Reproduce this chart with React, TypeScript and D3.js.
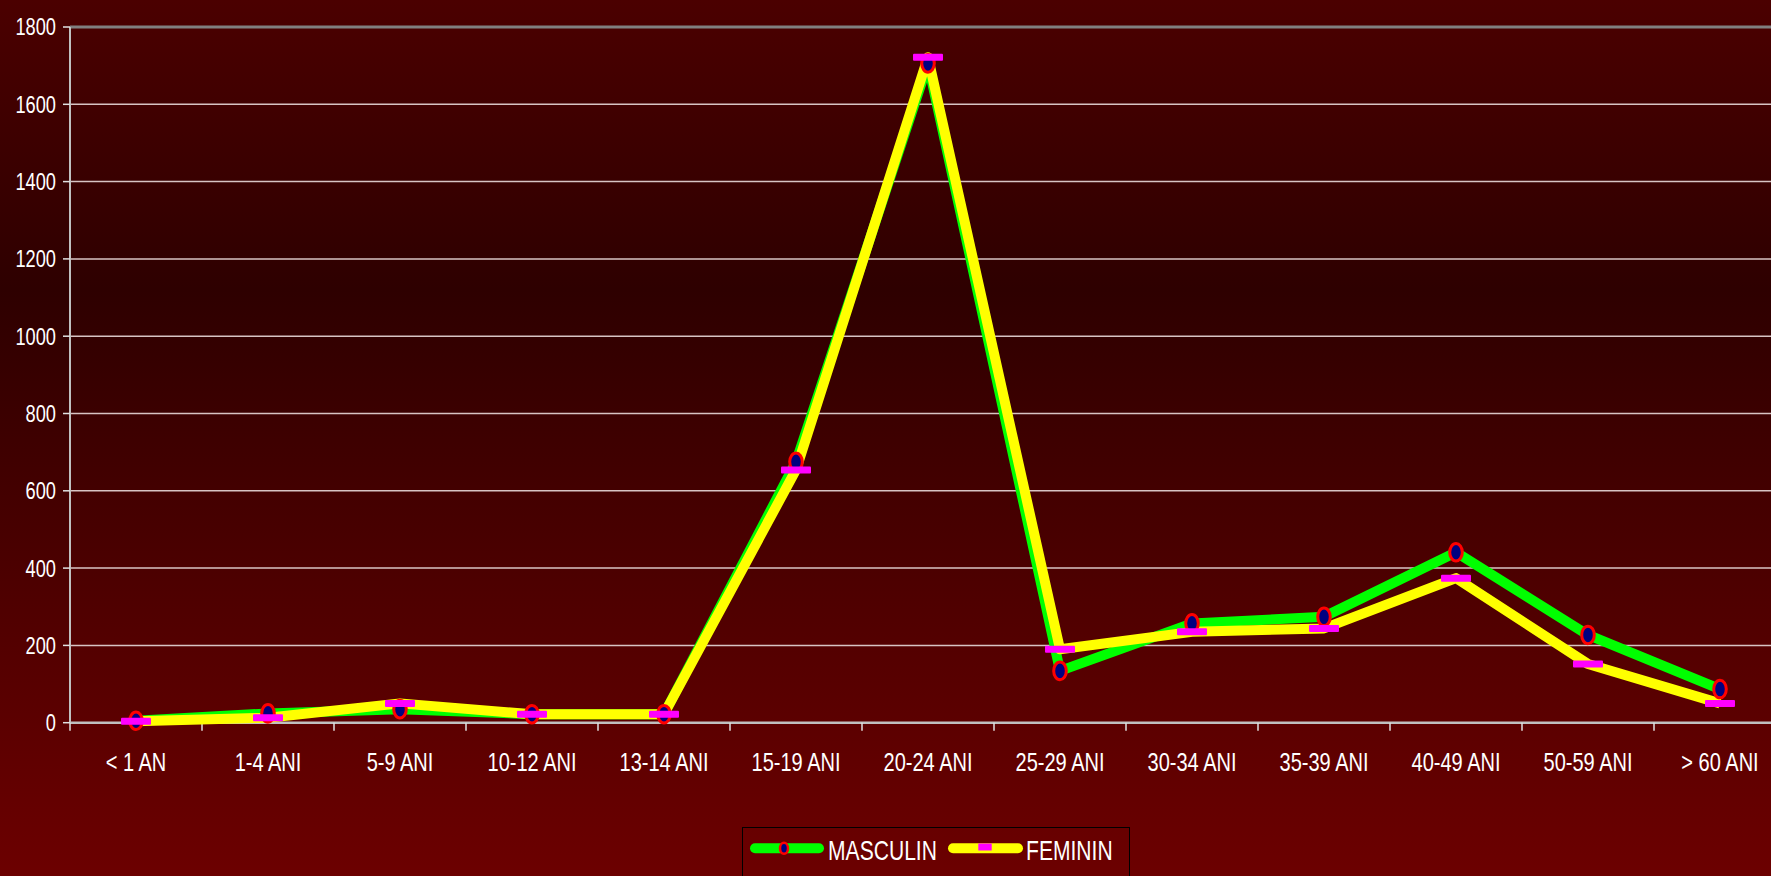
import * as d3 from "d3";

const categories = [
  "< 1 AN", "1-4 ANI", "5-9 ANI", "10-12 ANI", "13-14 ANI", "15-19 ANI", "20-24 ANI",
  "25-29 ANI", "30-34 ANI", "35-39 ANI", "40-49 ANI", "50-59 ANI", "> 60 ANI",
];
const masculin = [5, 24, 35, 22, 22, 675, 1706, 134, 257, 274, 441, 227, 87];
const feminin = [4, 13, 50, 22, 22, 654, 1722, 190, 235, 244, 374, 152, 50];
const yTicks = [0, 200, 400, 600, 800, 1000, 1200, 1400, 1600, 1800];

const W = 1771;
const H = 876;
const plot = { left: 70, top: 27, bottom: 722.7, band: 132 };
const FONT = "'Liberation Sans', Arial, sans-serif";

// no narrow font installed, so squeeze the regular one horizontally
function NarrowText(props: {
  x: number;
  y: number;
  size: number;
  sx: number;
  anchor?: "start" | "middle" | "end";
  dy?: string;
  children: string | number;
}) {
  return (
    <text
      transform={`translate(${props.x},${props.y}) scale(${props.sx},1)`}
      dy={props.dy}
      textAnchor={props.anchor || "start"}
      fill="#ffffff"
      fontFamily={FONT}
      fontSize={props.size}
    >
      {props.children}
    </text>
  );
}

export default function App() {
  const x = d3
    .scaleBand<string>()
    .domain(categories)
    .range([plot.left, plot.left + plot.band * categories.length])
    .padding(0);
  const y = d3.scaleLinear().domain([0, 1800]).range([plot.bottom, plot.top]);
  const cx = (i: number) => (x(categories[i]) || 0) + x.bandwidth() / 2;

  const line = d3
    .line<number>()
    .x((_, i) => cx(i))
    .y((d) => y(d));

  const right = plot.left + plot.band * categories.length;

  return (
    <div style={{ position: "absolute", left: 0, top: 0 }}>
      <svg width={W} height={H} style={{ display: "block" }}>
        <defs>
          <linearGradient id="bg" x1="0" y1="0" x2="0" y2="1">
            <stop offset="0" stopColor="#4b0000" />
            <stop offset="0.33" stopColor="#2e0000" />
            <stop offset="1" stopColor="#6c0000" />
          </linearGradient>
        </defs>
        <rect x={0} y={0} width={W} height={H} fill="url(#bg)" />

        {/* grid */}
        {yTicks.slice(1, -1).map((t) => (
          <line key={t} x1={plot.left} x2={right} y1={y(t)} y2={y(t)} stroke="#d8c4c4" strokeWidth={1.5} />
        ))}
        <line x1={plot.left} x2={right} y1={plot.top} y2={plot.top} stroke="#808080" strokeWidth={3} />

        {/* axes */}
        <line x1={plot.left} x2={plot.left} y1={plot.top} y2={plot.bottom} stroke="#c0c0c0" strokeWidth={2} />
        <line x1={plot.left} x2={right} y1={plot.bottom} y2={plot.bottom} stroke="#c0c0c0" strokeWidth={2.5} />
        {yTicks.map((t) => (
          <g key={t}>
            <line x1={plot.left - 7} x2={plot.left} y1={y(t)} y2={y(t)} stroke="#e0e0e0" strokeWidth={1.5} />
            <NarrowText x={56} y={y(t)} dy="0.35em" anchor="end" size={24} sx={0.76}>
              {t}
            </NarrowText>
          </g>
        ))}
        {categories.map((c, i) => (
          <g key={c}>
            <line
              x1={x(c)}
              x2={x(c)}
              y1={plot.bottom}
              y2={plot.bottom + 8}
              stroke="#e0e0e0"
              strokeWidth={1.5}
            />
            <NarrowText x={cx(i)} y={771} anchor="middle" size={26} sx={0.77}>
              {c}
            </NarrowText>
          </g>
        ))}

        {/* series */}
        <path d={line(masculin) || ""} fill="none" stroke="#00ff00" strokeWidth={10} strokeLinejoin="round" />
        <path d={line(feminin) || ""} fill="none" stroke="#ffff00" strokeWidth={10} strokeLinejoin="round" />
        {masculin.map((v, i) => (
          <ellipse key={i} cx={cx(i)} cy={y(v)} rx={6.3} ry={8.8} fill="#000080" stroke="#ff0000" strokeWidth={3} />
        ))}
        {feminin.map((v, i) => (
          <rect key={i} x={cx(i) - 15} y={y(v) - 3.5} width={30} height={7} rx={1} fill="#ff00ff" />
        ))}

        {/* legend */}
        <rect x={742.5} y={827.5} width={387} height={70} fill="none" stroke="#000000" strokeWidth={1} />
        <line x1={755} x2={819} y1={848.3} y2={848.3} stroke="#00ff00" strokeWidth={10} strokeLinecap="round" />
        <ellipse cx={784} cy={848.3} rx={4} ry={5.5} fill="#000080" stroke="#ff0000" strokeWidth={2.5} />
        <NarrowText x={828} y={860} size={28.5} sx={0.74}>
          MASCULIN
        </NarrowText>
        <line x1={953} x2={1018} y1={848.3} y2={848.3} stroke="#ffff00" strokeWidth={10} strokeLinecap="round" />
        <rect x={978.3} y={843.5} width={13.4} height={7} fill="#ff00ff" />
        <NarrowText x={1026} y={860} size={28.5} sx={0.74}>
          FEMININ
        </NarrowText>
      </svg>
    </div>
  );
}
